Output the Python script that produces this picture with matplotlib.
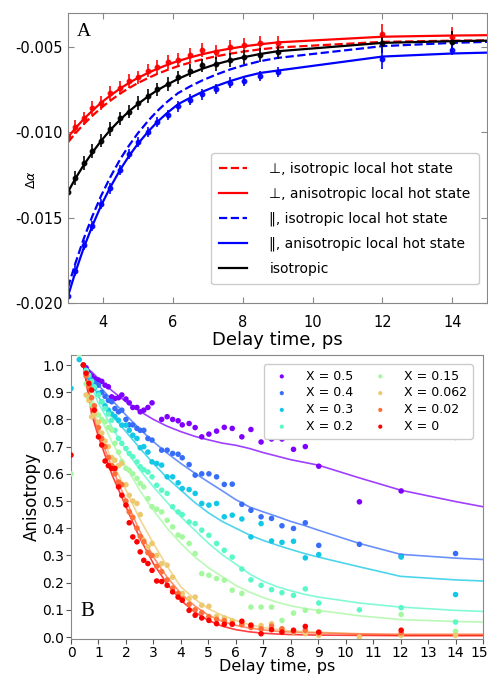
import numpy as np
import matplotlib
matplotlib.use("Agg")
import matplotlib.pyplot as plt
import matplotlib.transforms as mtransforms

plt.rcParams['font.family'] = ['DejaVu Sans']
plt.rcParams['axes.unicode_minus'] = False

# ---------------- Panel A data ----------------
t_data_a = [3.0, 3.2, 3.45, 3.7, 3.95, 4.2, 4.5, 4.75, 5.0, 5.3, 5.55, 5.85, 6.15,
            6.5, 6.85, 7.25, 7.65, 8.05, 8.5, 9.0, 12.0, 14.0]
t_fit_a = [3.0, 3.2, 3.45, 3.7, 3.95, 4.2, 4.5, 4.75, 5.0, 5.3, 5.55, 5.85, 6.15,
           6.5, 6.85, 7.25, 7.65, 8.05, 8.5, 9.0, 12.0, 14.0, 15.0]

perp_iso_fit = [-0.01060, -0.01010, -0.00954, -0.00904, -0.00858, -0.00818, -0.00774, -0.00742,
                -0.00713, -0.00683, -0.00660, -0.00636, -0.00614, -0.00593, -0.00574, -0.00556,
                -0.00541, -0.00528, -0.00516, -0.00505, -0.00472, -0.00465, -0.00463]
perp_aniso_fit = [-0.01030, -0.00980, -0.00924, -0.00874, -0.00828, -0.00788, -0.00744, -0.00712,
                  -0.00683, -0.00653, -0.00630, -0.00606, -0.00584, -0.00563, -0.00544, -0.00526,
                  -0.00511, -0.00498, -0.00486, -0.00475, -0.00442, -0.00435, -0.00433]
par_iso_fit = [-0.01910, -0.01775, -0.01624, -0.01491, -0.01372, -0.01268, -0.01157, -0.01078,
               -0.01007, -0.00933, -0.00878, -0.00821, -0.00772, -0.00732, -0.00697, -0.00663,
               -0.00633, -0.00608, -0.00585, -0.00566, -0.00497, -0.00478, -0.00472]
par_aniso_fit = [-0.01960, -0.01827, -0.01678, -0.01547, -0.01429, -0.01327, -0.01218, -0.01139,
                 -0.01069, -0.00996, -0.00942, -0.00886, -0.00837, -0.00799, -0.00764, -0.00730,
                 -0.00701, -0.00676, -0.00654, -0.00640, -0.00558, -0.00540, -0.00535]
iso_fit = [-0.01350, -0.01276, -0.01193, -0.01119, -0.01051, -0.00990, -0.00926, -0.00878,
           -0.00836, -0.00790, -0.00756, -0.00721, -0.00689, -0.00657, -0.00629, -0.00602,
           -0.00580, -0.00561, -0.00543, -0.00527, -0.00478, -0.00468, -0.00465]

perp_data = [-0.0103, -0.0097, -0.0092, -0.0086, -0.0083, -0.0077, -0.0074, -0.0070, -0.0068,
             -0.0064, -0.0062, -0.0059, -0.0058, -0.0055, -0.0052, -0.0053, -0.0050, -0.0049,
             -0.0048, -0.0048, -0.00426, -0.00445]
iso_data = [-0.0135, -0.0127, -0.0118, -0.0111, -0.0105, -0.0098, -0.0092, -0.0088, -0.0083,
            -0.0079, -0.0075, -0.0072, -0.0068, -0.0064, -0.0061, -0.0060, -0.0058, -0.0056,
            -0.0055, -0.0053, -0.0048, -0.0047]
par_data = [-0.0196, -0.0181, -0.0166, -0.0155, -0.0142, -0.0133, -0.0122, -0.0113, -0.0106,
            -0.0100, -0.0094, -0.0090, -0.0085, -0.0081, -0.0078, -0.0075, -0.0071, -0.0070,
            -0.0067, -0.0065, -0.0057, -0.0052]
perp_err = [0.0004] * 20 + [0.0006, 0.0006]
iso_err = [0.0004] * 20 + [0.0006, 0.0006]
par_err = [0.0003] * 20 + [0.0006, 0.0003]

legend_a = ["\u22a5, isotropic local hot state", "\u22a5, anisotropic local hot state",
            "\u2016, isotropic local hot state", "\u2016, anisotropic local hot state",
            "isotropic"]

# ---------------- Panel B data ----------------
labels_b = ["X = 0.5", "X = 0.4", "X = 0.3", "X = 0.2", "X = 0.15", "X = 0.062", "X = 0.02", "X = 0"]
t_data_b = [0.0, 0.3, 0.45, 0.55, 0.65, 0.75, 0.85, 1.0, 1.12, 1.24, 1.36, 1.48, 1.6, 1.73, 1.85,
            2.0, 2.12, 2.25, 2.4, 2.52, 2.65, 2.8, 2.95, 3.12, 3.3, 3.5, 3.7, 3.9, 4.05, 4.3, 4.52,
            4.76, 5.02, 5.3, 5.58, 5.87, 6.22, 6.55, 6.92, 7.3, 7.68, 8.1, 8.53, 9.02, 10.5, 12.02, 14.0]
nan = float('nan')
aniso_x050 = [nan, nan, nan, 0.99, 0.97, 0.96, 0.95, 0.945, 0.94, 0.926, 0.92, 0.883, 0.877, 0.88, 0.89,
              0.875, 0.861, 0.844, 0.844, 0.828, 0.834, 0.844, 0.861, nan, 0.80, 0.81, 0.80, 0.795, 0.78,
              0.785, 0.77, 0.736, 0.746, 0.757, 0.771, 0.767, 0.736, 0.763, 0.717, 0.728, 0.728, 0.69,
              0.70, 0.628, 0.497, 0.537, 0.734]
aniso_x040 = [nan, nan, 1.0, 0.97, 0.955, 0.945, 0.935, 0.926, 0.90, 0.885, 0.87, 0.865, 0.84, 0.828,
              0.834, 0.80, 0.78, 0.78, 0.767, 0.76, 0.76, 0.73, 0.724, nan, 0.687, 0.687, 0.675, 0.672,
              0.659, 0.634, 0.595, 0.60, 0.60, 0.589, 0.561, 0.562, 0.488, 0.466, 0.442, 0.436, 0.409,
              0.399, 0.42, 0.337, 0.341, 0.297, 0.307]
aniso_x030 = [0.914, 1.02, nan, 0.98, 0.957, 0.933, 0.915, 0.896, 0.865, 0.85, 0.834, 0.82, 0.81, 0.797,
              0.779, 0.779, 0.76, 0.742, 0.73, 0.696, 0.70, 0.68, 0.644, 0.638, 0.632, 0.589, 0.589,
              0.567, 0.546, 0.542, 0.528, 0.491, 0.485, 0.491, 0.442, 0.448, 0.434, 0.368, 0.417, 0.353,
              0.348, 0.352, 0.291, 0.303, nan, 0.294, 0.156]
aniso_x020 = [nan, nan, 1.0, 0.98, 0.963, 0.94, 0.92, 0.89, 0.865, 0.84, 0.82, 0.797, 0.76, 0.73, 0.712,
              0.693, 0.675, 0.663, 0.644, 0.626, 0.615, 0.607, 0.589, 0.558, 0.54, 0.528, 0.479, 0.46,
              0.45, 0.423, 0.417, 0.393, 0.374, 0.344, 0.319, 0.294, 0.25, 0.21, 0.19, 0.174, 0.163,
              0.153, 0.177, 0.125, 0.10, 0.108, 0.055]
aniso_x015 = [0.60, 1.04, nan, 0.93, 0.88, 0.853, 0.84, 0.816, 0.80, 0.791, 0.77, 0.761, 0.712, 0.68,
              0.645, 0.62, 0.613, 0.60, 0.583, 0.565, 0.552, 0.509, 0.479, 0.47, 0.46, 0.429, 0.405,
              0.375, 0.368, 0.344, 0.307, 0.233, 0.227, 0.215, 0.209, 0.172, 0.16, 0.11, 0.11, 0.11,
              0.061, 0.088, 0.098, 0.094, nan, 0.083, 0.021]
aniso_x0062 = [nan, nan, nan, 0.89, 0.87, 0.81, 0.82, 0.79, 0.75, 0.72, 0.70, 0.66, 0.65, 0.63, 0.638,
               0.56, 0.521, 0.50, 0.491, 0.45, 0.356, 0.331, 0.344, 0.30, 0.27, 0.264, 0.22, 0.147,
               0.16, 0.141, 0.147, 0.117, 0.113, 0.076, 0.07, 0.06, 0.05, 0.045, 0.042, 0.049, 0.03,
               0.018, 0.012, 0.006, 0.0, 0.006, 0.006]
aniso_x002 = [nan, nan, 1.0, 0.96, 0.92, 0.88, 0.85, 0.77, 0.73, 0.70, 0.66, 0.63, 0.60, 0.57, 0.56,
              0.50, 0.46, 0.44, 0.40, 0.37, 0.35, 0.31, 0.30, 0.26, 0.24, 0.21, 0.18, 0.16, 0.14, 0.12,
              0.10, 0.09, 0.075, 0.065, 0.06, 0.05, 0.045, 0.035, 0.03, 0.04, 0.03, 0.02, 0.025, 0.015,
              nan, 0.015, nan]
aniso_x000 = [0.669, nan, 1.0, 0.97, 0.933, 0.908, 0.834, 0.736, 0.706, 0.647, 0.63, 0.62, 0.62, 0.552,
              0.521, 0.485, 0.42, 0.368, 0.35, 0.313, 0.282, 0.27, 0.245, 0.206, 0.204, 0.19, 0.166,
              0.147, 0.135, 0.098, 0.08, 0.07, 0.061, 0.049, 0.047, 0.047, 0.058, 0.043, 0.012, 0.027,
              0.018, 0.025, 0.039, 0.018, nan, 0.025, nan]

t_fit_b = [0.45, 0.75, 1.0, 1.5, 2.0, 2.5, 3.0, 3.5, 4.0, 4.5, 5.0, 5.5, 6.0, 6.5, 7.0, 7.5, 8.0,
           8.5, 9.0, 10.5, 12.0, 14.0, 15.0]
fit_x050 = [1.0, 0.975, 0.95, 0.905, 0.865, 0.83, 0.80, 0.775, 0.755, 0.738, 0.725, 0.713, 0.705,
            0.693, 0.678, 0.665, 0.652, 0.642, 0.632, 0.585, 0.54, 0.498, 0.479]
fit_x040 = [1.0, 0.96, 0.926, 0.87, 0.816, 0.765, 0.718, 0.676, 0.638, 0.603, 0.57, 0.538, 0.505,
            0.478, 0.46, 0.443, 0.425, 0.41, 0.393, 0.344, 0.304, 0.29, 0.285]
fit_x030 = [1.0, 0.94, 0.883, 0.815, 0.755, 0.695, 0.638, 0.585, 0.54, 0.495, 0.457, 0.425, 0.40,
            0.375, 0.355, 0.338, 0.322, 0.307, 0.294, 0.258, 0.223, 0.21, 0.206]
fit_x020 = [1.0, 0.92, 0.859, 0.77, 0.687, 0.615, 0.552, 0.495, 0.442, 0.393, 0.345, 0.303, 0.268,
            0.232, 0.205, 0.185, 0.17, 0.157, 0.147, 0.125, 0.11, 0.098, 0.094]
fit_x015 = [1.0, 0.88, 0.822, 0.715, 0.626, 0.54, 0.466, 0.40, 0.344, 0.295, 0.255, 0.222, 0.19,
            0.165, 0.145, 0.128, 0.115, 0.105, 0.098, 0.078, 0.064, 0.057, 0.055]
fit_x0062 = [1.0, 0.86, 0.773, 0.645, 0.54, 0.435, 0.344, 0.26, 0.184, 0.14, 0.104, 0.08, 0.061,
             0.045, 0.035, 0.028, 0.022, 0.02, 0.018, 0.01, 0.006, 0.006, 0.006]
fit_x002 = [1.0, 0.84, 0.755, 0.62, 0.503, 0.39, 0.294, 0.22, 0.16, 0.115, 0.08, 0.058, 0.043,
            0.033, 0.026, 0.021, 0.018, 0.016, 0.015, 0.012, 0.01, 0.01, 0.01]
fit_x000 = [1.0, 0.82, 0.736, 0.595, 0.479, 0.365, 0.27, 0.195, 0.135, 0.092, 0.061, 0.04, 0.027,
            0.019, 0.014, 0.011, 0.009, 0.008, 0.007, 0.006, 0.005, 0.005, 0.005]

# ---------------- Figure ----------------
fig = plt.figure(figsize=(4.88, 6.76), dpi=100)

# Panel A
axA = fig.add_axes([0.1393, 0.5518, 0.8590, 0.4290])
red, blue = '#ff0000', '#0000ff'
l1, = axA.plot(t_fit_a, perp_iso_fit, color=red, ls='--', lw=1.6)
l2, = axA.plot(t_fit_a, perp_aniso_fit, color=red, ls='-', lw=1.6)
l3, = axA.plot(t_fit_a, par_iso_fit, color=blue, ls='--', lw=1.6)
l4, = axA.plot(t_fit_a, par_aniso_fit, color=blue, ls='-', lw=1.6)
l5, = axA.plot(t_fit_a, iso_fit, color='black', ls='-', lw=1.6)
for y, e, c in [(perp_data, perp_err, red), (iso_data, iso_err, 'black'), (par_data, par_err, blue)]:
    axA.errorbar(t_data_a, y, yerr=e, fmt='o', ms=3.2, color=c, ecolor=c, elinewidth=1.3,
                 capsize=0, alpha=0.9)
axA.set_xlim(3, 15)
axA.set_ylim(-0.020, -0.00303)
axA.set_xticks([4, 6, 8, 10, 12, 14])
axA.set_yticks([-0.020, -0.015, -0.010, -0.005])
axA.set_yticklabels(['-0.020', '-0.015', '-0.010', '-0.005'])
axA.tick_params(direction='in', top=True, right=True, labelsize=10.5, length=4, color='#888888')
axA.tick_params(axis='x', pad=9)
for s in axA.spines.values():
    s.set_color('#888888')
axA.set_xlabel('Delay time, ps', fontsize=13)
axA.xaxis.set_label_coords(0.5, -0.128)
axA.xaxis.label.set_verticalalignment('center')
axA.set_ylabel(r'$\Delta\alpha$', fontsize=9)
axA.yaxis.set_label_coords(-0.072, 0.424)
axA.text(0.022, 0.92, 'A', transform=axA.transAxes, fontsize=14, family='Liberation Serif')
axA.legend([l1, l2, l3, l4, l5], legend_a, loc='lower right', bbox_to_anchor=(0.997, 0.04),
           fontsize=10, handlelength=2.0, handletextpad=1.6, labelspacing=0.78, borderpad=0.6,
           framealpha=1.0)

# Panel B
axB = fig.add_axes([0.1455, 0.0547, 0.8443, 0.4202])
colors = plt.cm.rainbow(np.linspace(0, 1, 8))
series_b = [aniso_x050, aniso_x040, aniso_x030, aniso_x020, aniso_x015, aniso_x0062, aniso_x002, aniso_x000]
fits_b = [fit_x050, fit_x040, fit_x030, fit_x020, fit_x015, fit_x0062, fit_x002, fit_x000]
for vals, fit, c, lab in zip(series_b, fits_b, colors, labels_b):
    axB.plot(t_fit_b, fit, color=c, lw=1.2, alpha=0.75, zorder=2)
    axB.scatter(t_data_b, vals, s=16, color=c, edgecolors='none', label=lab, zorder=3)
axB.set_xlim(0, 15)
axB.set_ylim(-0.0074, 1.037)
axB.set_xticks(range(0, 16))
axB.set_yticks([i / 10 for i in range(11)])
axB.set_yticklabels(['%.1f' % (i / 10) for i in range(11)])
axB.tick_params(labelsize=10, length=3.5, color='#555555', pad=1.5)
for s in axB.spines.values():
    s.set_color('#888888')
# nudge the last x tick label ("15") slightly left so it is not clipped at the figure edge
last_lab = axB.get_xticklabels()[-1]
last_lab.set_transform(last_lab.get_transform() +
                       mtransforms.ScaledTranslation(-4 / 100, 0, fig.dpi_scale_trans))
axB.set_xlabel('Delay time, ps', fontsize=11.5)
axB.xaxis.set_label_coords(0.5, -0.097)
axB.xaxis.label.set_verticalalignment('center')
axB.set_ylabel('Anisotropy', fontsize=12)
axB.yaxis.set_label_coords(-0.073, 0.5)
axB.text(0.022, 0.08, 'B', transform=axB.transAxes, fontsize=15, family='Liberation Serif')
axB.legend(loc='upper right', ncol=2, fontsize=9, scatterpoints=1, markerscale=0.75,
           handletextpad=0.9, columnspacing=1.2, labelspacing=0.3, borderpad=0.45,
           bbox_to_anchor=(0.99, 0.99), framealpha=1.0)

fig.savefig('out.png', dpi=100)
